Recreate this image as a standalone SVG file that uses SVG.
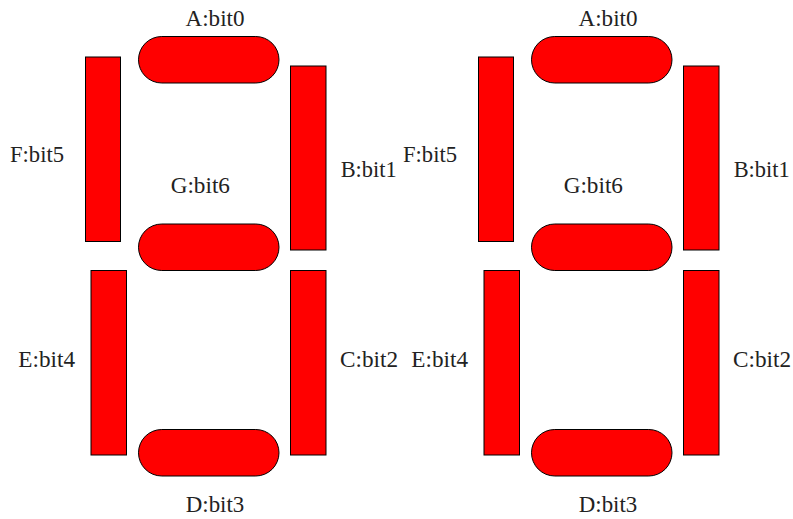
<svg xmlns="http://www.w3.org/2000/svg" width="793" height="519" viewBox="0 0 793 519">
<style>
.seg{fill:#ff0000;stroke:#000;stroke-width:1}
.lbl{font-family:"Liberation Serif","Times New Roman",serif;font-size:23px;fill:#222;text-anchor:middle}
</style>
<g id="digit1">
<g id="d1-segA"><rect class="seg" x="138.5" y="36.5" width="140.5" height="46.5" rx="23.25"/><text class="lbl" x="215" y="26" textLength="59" lengthAdjust="spacingAndGlyphs">A:bit0</text></g>
<g id="d1-segB"><rect class="seg" x="290.5" y="66" width="35.5" height="184"/><text class="lbl" x="368.7" y="177" textLength="56" lengthAdjust="spacingAndGlyphs">B:bit1</text></g>
<g id="d1-segC"><rect class="seg" x="290.5" y="270.5" width="35.5" height="184.5"/><text class="lbl" x="369" y="367" textLength="58" lengthAdjust="spacingAndGlyphs">C:bit2</text></g>
<g id="d1-segD"><rect class="seg" x="138.5" y="429.5" width="140.5" height="46.5" rx="23.25"/><text class="lbl" x="215" y="512" textLength="58.5" lengthAdjust="spacingAndGlyphs">D:bit3</text></g>
<g id="d1-segE"><rect class="seg" x="91" y="270.5" width="35.5" height="184.5"/><text class="lbl" x="46.7" y="367" textLength="56.7" lengthAdjust="spacingAndGlyphs">E:bit4</text></g>
<g id="d1-segF"><rect class="seg" x="85.5" y="57" width="35" height="184.5"/><text class="lbl" x="37" y="162" textLength="54" lengthAdjust="spacingAndGlyphs">F:bit5</text></g>
<g id="d1-segG"><rect class="seg" x="138.5" y="224" width="140.5" height="46.5" rx="23.25"/><text class="lbl" x="200.3" y="192.7" textLength="59.3" lengthAdjust="spacingAndGlyphs">G:bit6</text></g>
</g>
<g id="digit2" transform="translate(393,0)">
<g id="d2-segA"><rect class="seg" x="138.5" y="36.5" width="140.5" height="46.5" rx="23.25"/><text class="lbl" x="215" y="26" textLength="59" lengthAdjust="spacingAndGlyphs">A:bit0</text></g>
<g id="d2-segB"><rect class="seg" x="290.5" y="66" width="35.5" height="184"/><text class="lbl" x="368.7" y="177" textLength="56" lengthAdjust="spacingAndGlyphs">B:bit1</text></g>
<g id="d2-segC"><rect class="seg" x="290.5" y="270.5" width="35.5" height="184.5"/><text class="lbl" x="369" y="367" textLength="58" lengthAdjust="spacingAndGlyphs">C:bit2</text></g>
<g id="d2-segD"><rect class="seg" x="138.5" y="429.5" width="140.5" height="46.5" rx="23.25"/><text class="lbl" x="215" y="512" textLength="58.5" lengthAdjust="spacingAndGlyphs">D:bit3</text></g>
<g id="d2-segE"><rect class="seg" x="91" y="270.5" width="35.5" height="184.5"/><text class="lbl" x="46.7" y="367" textLength="56.7" lengthAdjust="spacingAndGlyphs">E:bit4</text></g>
<g id="d2-segF"><rect class="seg" x="85.5" y="57" width="35" height="184.5"/><text class="lbl" x="37" y="162" textLength="54" lengthAdjust="spacingAndGlyphs">F:bit5</text></g>
<g id="d2-segG"><rect class="seg" x="138.5" y="224" width="140.5" height="46.5" rx="23.25"/><text class="lbl" x="200.3" y="192.7" textLength="59.3" lengthAdjust="spacingAndGlyphs">G:bit6</text></g>
</g>
</svg>
